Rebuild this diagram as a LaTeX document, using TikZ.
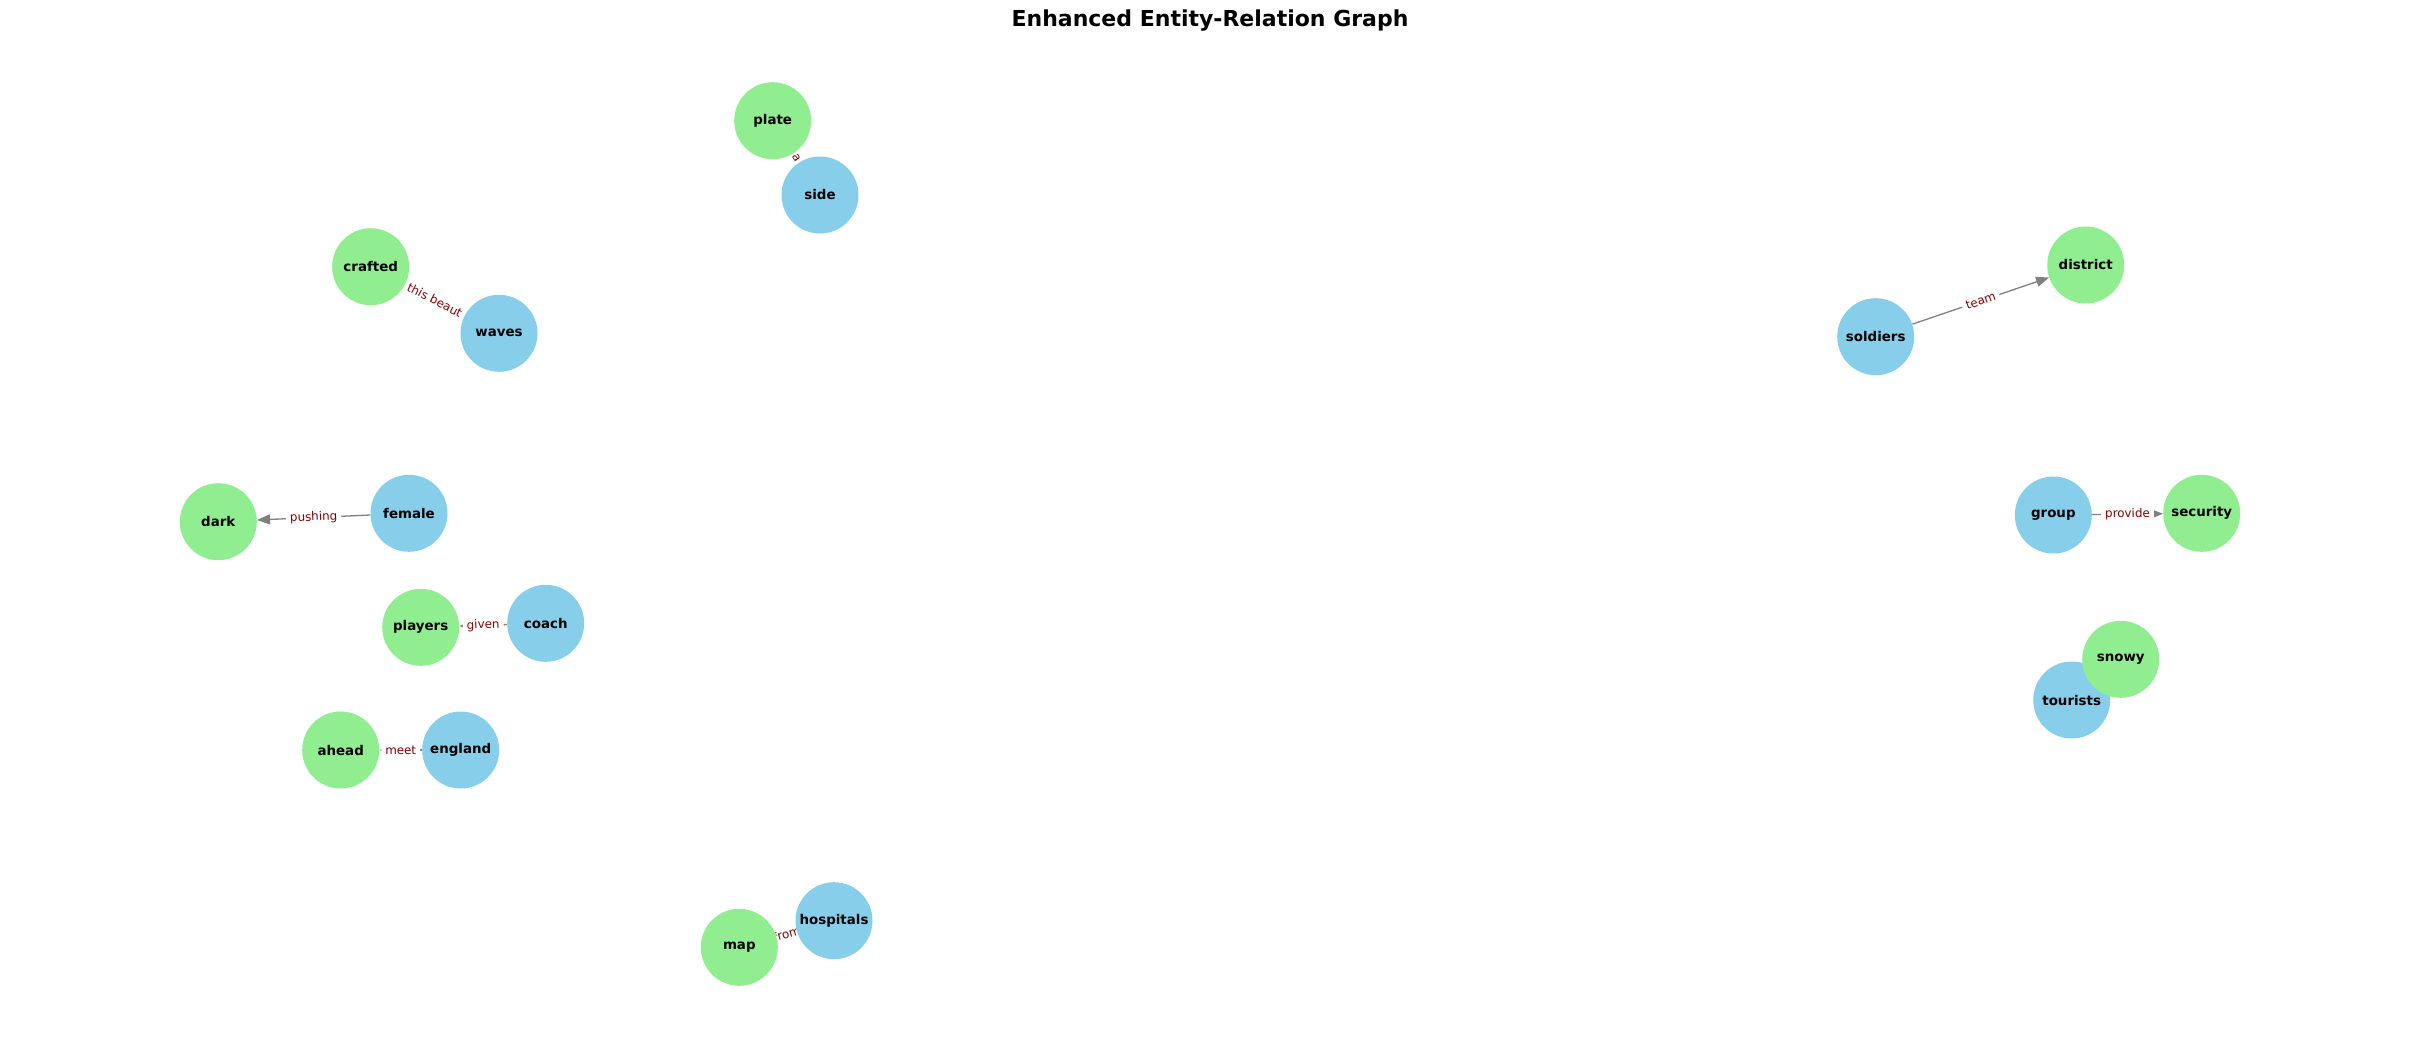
\documentclass[tikz,border=0pt]{standalone}
\usepackage{fontspec}
\setmainfont{DejaVu Sans}
\usetikzlibrary{arrows.meta}
\pgfdeclarelayer{bg}
\pgfsetlayers{bg,main}
\definecolor{skyb}{HTML}{87CEEB}
\definecolor{lgreen}{HTML}{90EE90}
\definecolor{edgegray}{HTML}{808080}
\definecolor{lblred}{HTML}{8B0000}
\begin{document}
\begin{tikzpicture}[x=1pt,y=-1pt,
  entity/.style={circle, minimum size=77pt, inner sep=0pt, font=\fontsize{13.4}{14}\selectfont\bfseries},
  subj/.style={entity, fill=skyb},
  obj/.style={entity, fill=lgreen},
  rel/.style={draw=edgegray, line width=1.3pt, -{Triangle[length=13pt,width=10pt]}},
  lbl/.style={sloped, fill=white, rounded corners=3pt, inner sep=4pt, text=lblred, font=\fontsize{11.9}{12}\selectfont}]
\useasboundingbox (0,0) rectangle (2420,1044);
\node[font=\fontsize{22}{24}\selectfont\bfseries] (title) at (1210,21) {Enhanced Entity-Relation Graph};

\node[obj] (plate) at (772.7,120.7) {plate};
\node[subj] (side) at (820,195) {side};
\node[obj] (crafted) at (370.7,266.7) {crafted};
\node[subj] (waves) at (499,333.3) {waves};
\node[obj] (dark) at (218.3,521.7) {dark};
\node[subj] (female) at (409,513.3) {female};
\node[obj] (players) at (420.7,627.3) {players};
\node[subj] (coach) at (545.7,623.3) {coach};
\node[obj] (ahead) at (340.7,750) {ahead};
\node[subj] (england) at (460.7,750) {england};
\node[obj] (map) at (739.3,947.3) {map};
\node[subj] (hospitals) at (834,920.7) {hospitals};
\node[subj] (soldiers) at (1875.7,336.7) {soldiers};
\node[obj] (district) at (2085.7,265) {district};
\node[subj] (group) at (2053.3,515) {group};
\node[obj] (security) at (2201.7,513.3) {security};
\node[subj] (tourists) at (2071.7,700) {tourists};
\node[obj] (snowy) at (2120.7,659.3) {snowy};

\begin{pgfonlayer}{bg}
\draw[rel] (side) -- (plate);
\path (side.center) -- node[lbl] {a} (plate.center);
\draw[rel] (waves) -- (crafted);
\path (waves.center) -- node[lbl] {this beaut} (crafted.center);
\draw[rel] (female) -- (dark);
\path (female.center) -- node[lbl] {pushing} (dark.center);
\draw[rel] (coach) -- (players);
\path (coach.center) -- node[lbl] {given} (players.center);
\draw[rel] (england) -- (ahead);
\path (england.center) -- node[lbl] {meet} (ahead.center);
\draw[rel] (hospitals) -- (map);
\path (hospitals.center) -- node[lbl] {from} (map.center);
\draw[rel] (soldiers) -- (district);
\path (soldiers.center) -- node[lbl] {team} (district.center);
\draw[rel] (group) -- (security);
\path (group.center) -- node[lbl] {provide} (security.center);
\end{pgfonlayer}
\end{tikzpicture}
\end{document}
